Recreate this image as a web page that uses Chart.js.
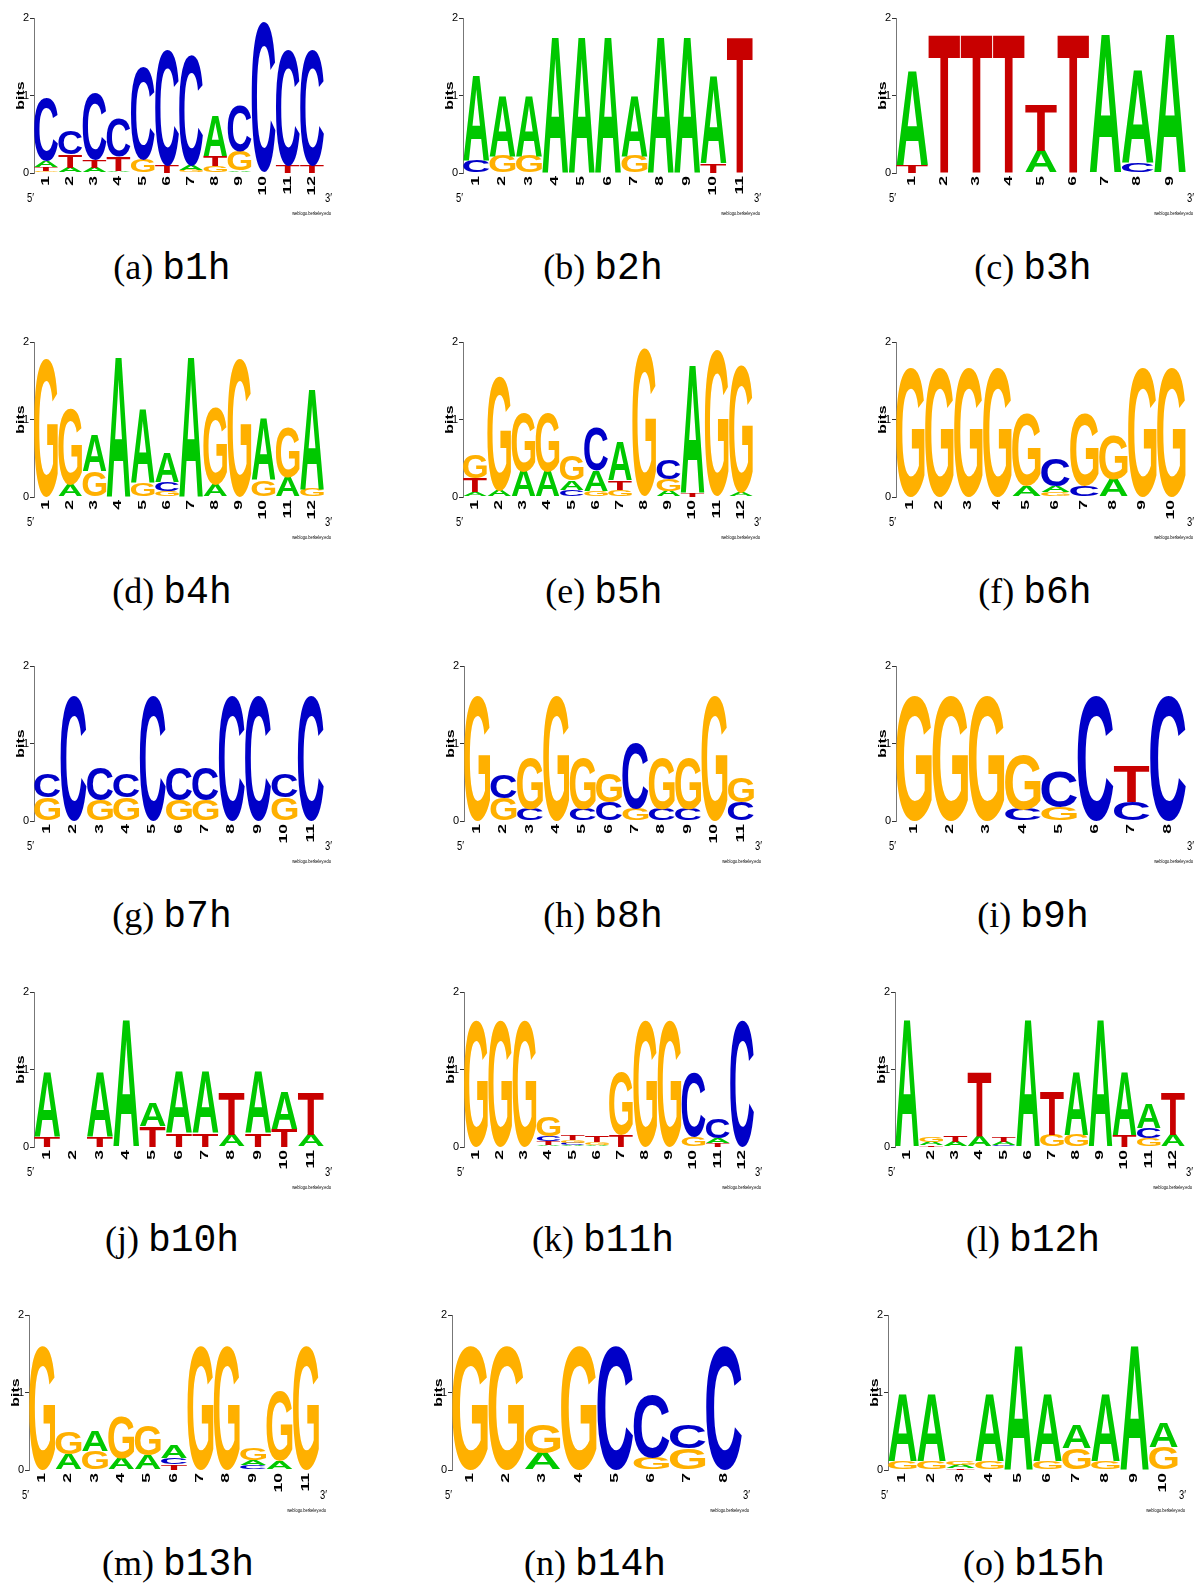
<!DOCTYPE html>
<html><head><meta charset="utf-8">
<script src="https://cdn.jsdelivr.net/npm/chart.js@4.4.1/dist/chart.umd.min.js"></script>
<style>
html,body{margin:0;padding:0;background:#fff;}
body{width:1200px;height:1595px;position:relative;overflow:hidden;}
.panel{position:absolute;}
.cap{position:absolute;width:360px;text-align:center;font-size:36px;line-height:36px;white-space:nowrap;color:#000;}
.cap .l{font-family:"Liberation Serif","DejaVu Serif",serif;}
.cap .n{font-family:"Liberation Mono","DejaVu Sans Mono",monospace;font-size:38px;}
</style></head><body>
<script>
// ---------------- DATA (bits per letter, per position) ----------------
const b1h_A = [0.08, 0.06, 0.06, 0.03, 0, 0, 0.06, 0.52, 0.03, 0, 0, 0];
const b1h_C = [0.82, 0.30, 0.86, 0.50, 1.20, 1.49, 1.42, 0, 0.60, 1.94, 1.49, 1.49];
const b1h_G = [0.03, 0.01, 0.01, 0, 0.17, 0, 0.03, 0.09, 0.25, 0, 0, 0];
const b1h_T = [0.05, 0.17, 0.10, 0.18, 0, 0.10, 0.01, 0.13, 0, 0, 0.10, 0.10];

const b2h_A = [1.10, 0.78, 0.78, 1.75, 1.75, 1.75, 0.78, 1.75, 1.75, 1.13, 0];
const b2h_C = [0.15, 0, 0, 0, 0, 0, 0, 0, 0, 0, 0];
const b2h_G = [0, 0.22, 0.22, 0, 0, 0, 0.22, 0, 0, 0, 0];
const b2h_T = [0, 0, 0, 0, 0, 0, 0, 0, 0, 0.12, 1.75];

const b3h_A = [1.21, 0, 0, 0, 0.28, 0, 1.79, 1.20, 1.79];
const b3h_C = [0, 0, 0, 0, 0, 0, 0, 0.12, 0];
const b3h_G = [0, 0, 0, 0, 0, 0, 0, 0, 0];
const b3h_T = [0.10, 1.79, 1.79, 1.79, 0.60, 1.79, 0, 0, 0];

const b4h_A = [0, 0.16, 0.47, 1.80, 0.95, 0.38, 1.80, 0.16, 0, 0.79, 0.25, 1.29];
const b4h_C = [0, 0, 0, 0, 0, 0.11, 0, 0, 0, 0, 0, 0];
const b4h_G = [1.80, 0.98, 0.33, 0, 0.18, 0.08, 0, 1.00, 1.80, 0.21, 0.64, 0.10];
const b4h_T = [0, 0, 0, 0, 0, 0, 0, 0, 0, 0, 0, 0];

const b5h_A = [0.06, 0.08, 0.33, 0.33, 0.12, 0.26, 0.50, 0, 0.08, 1.65, 0, 0.05];
const b5h_C = [0, 0, 0, 0, 0.09, 0.56, 0, 0, 0.26, 0, 0, 0];
const b5h_G = [0.31, 1.47, 0.77, 0.77, 0.32, 0.08, 0.09, 1.91, 0.15, 0, 1.90, 1.65];
const b5h_T = [0.18, 0, 0, 0, 0, 0, 0.12, 0, 0, 0.05, 0, 0];

const b6h_A = [0, 0, 0, 0, 0.14, 0.08, 0, 0.23, 0, 0];
const b6h_C = [0, 0, 0, 0, 0, 0.36, 0.14, 0, 0, 0];
const b6h_G = [1.68, 1.68, 1.68, 1.68, 0.94, 0.06, 0.93, 0.58, 1.68, 1.68];
const b6h_T = [0, 0, 0, 0, 0, 0, 0, 0, 0, 0];

const b7h_A = [0, 0, 0, 0, 0, 0, 0, 0, 0, 0, 0];
const b7h_C = [0.31, 1.63, 0.43, 0.31, 1.63, 0.43, 0.43, 1.63, 1.63, 0.31, 1.63];
const b7h_G = [0.30, 0, 0.27, 0.30, 0, 0.27, 0.27, 0, 0, 0.30, 0];
const b7h_T = [0, 0, 0, 0, 0, 0, 0, 0, 0, 0, 0];

const b8h_A = [0, 0, 0, 0, 0, 0, 0, 0, 0, 0, 0];
const b8h_C = [0, 0.30, 0.15, 0, 0.15, 0.24, 0.85, 0.15, 0.15, 0, 0.24];
const b8h_G = [1.63, 0.29, 0.67, 1.63, 0.67, 0.38, 0.15, 0.67, 0.67, 1.63, 0.33];
const b8h_T = [0, 0, 0, 0, 0, 0, 0, 0, 0, 0, 0];

const b9h_A = [0, 0, 0, 0, 0, 0, 0, 0];
const b9h_C = [0, 0, 0, 0.15, 0.45, 1.63, 0.25, 1.63];
const b9h_G = [1.63, 1.63, 1.63, 0.72, 0.18, 0, 0, 0];
const b9h_T = [0, 0, 0, 0, 0, 0, 0.46, 0];

const b10h_A = [0.83, 0, 0.83, 1.64, 0.29, 0.80, 0.80, 0.16, 0.80, 0.48, 0.16];
const b10h_C = [0, 0, 0, 0, 0, 0, 0, 0, 0, 0, 0];
const b10h_G = [0, 0, 0, 0, 0, 0, 0, 0, 0, 0, 0];
const b10h_T = [0.14, 0, 0.14, 0, 0.27, 0.17, 0.17, 0.55, 0.17, 0.23, 0.55];

const b11h_A = [0, 0, 0, 0.03, 0.02, 0.02, 0, 0, 0, 0, 0.06, 0];
const b11h_C = [0, 0, 0, 0.06, 0.03, 0, 0, 0, 0, 0.84, 0.26, 1.64];
const b11h_G = [1.64, 1.64, 1.64, 0.26, 0.04, 0.04, 0.82, 1.64, 1.64, 0.13, 0, 0];
const b11h_T = [0, 0, 0, 0.05, 0.06, 0.09, 0.15, 0, 0, 0, 0.05, 0];

const b12h_A = [1.64, 0.04, 0.07, 0.13, 0.04, 1.64, 0, 0.82, 1.64, 0.82, 0.32, 0.16];
const b12h_C = [0, 0, 0, 0, 0.02, 0, 0, 0, 0, 0, 0.13, 0];
const b12h_G = [0, 0.06, 0, 0, 0, 0, 0.15, 0.15, 0, 0, 0.11, 0];
const b12h_T = [0, 0.02, 0.08, 0.83, 0.07, 0, 0.56, 0, 0, 0.15, 0, 0.55];

const b13h_A = [0, 0.20, 0.26, 0.15, 0.19, 0.17, 0, 0, 0.07, 0.11, 0];
const b13h_C = [0, 0, 0, 0, 0, 0.08, 0, 0, 0.06, 0, 0];
const b13h_G = [1.61, 0.28, 0.24, 0.54, 0.39, 0, 1.61, 1.61, 0.16, 0.90, 1.61];
const b13h_T = [0, 0, 0, 0, 0, 0.07, 0, 0, 0, 0, 0];

const b14h_A = [0, 0, 0.22, 0, 0, 0, 0, 0];
const b14h_C = [0, 0, 0, 0, 1.61, 0.82, 0.30, 1.61];
const b14h_G = [1.61, 1.61, 0.37, 1.61, 0, 0.15, 0.28, 0];
const b14h_T = [0, 0, 0, 0, 0, 0, 0, 0];

const b15h_A = [0.86, 0.86, 0.04, 0.86, 1.61, 0.86, 0.30, 0.86, 1.61, 0.31];
const b15h_C = [0, 0, 0, 0, 0, 0, 0, 0, 0, 0];
const b15h_G = [0.11, 0.11, 0.05, 0.11, 0, 0.11, 0.28, 0.11, 0, 0.29];
const b15h_T = [0, 0, 0.02, 0, 0, 0, 0, 0, 0, 0];

const yTicks = [0, 1, 2];
const subLetters = ['a','b','c','d','e','f','g','h','i','j','k','l','m','n','o'];
const logoNames = ['b1h','b2h','b3h','b4h','b5h','b6h','b7h','b8h','b9h','b10h','b11h','b12h','b13h','b14h','b15h'];

// ---------------- LAYOUT ----------------
const ROW_Y2 = [18, 342, 666, 992, 1315];           // pixel of the "2 bits" tick
const COL_AXIS = [[34,463,896],[34,463,896],[34,464,896],[34,464,895],[29,452,888]];
const CAP_X = [[172,603,1033],[172,604,1035],[172,603,1033],[172,603,1033],[178,595,1034]];
const CAP_BASE = [279, 603, 927, 1251, 1575];

const COLORS = {A:'#00c800', C:'#0000c8', G:'#ffb000', T:'#c80000'};
const GLYPH_FONT = 'bold 200px "Liberation Sans", Arial, Helvetica, sans-serif';
const glyphCache = {};
function glyphMetrics(ctx, ch){
  if (glyphCache[ch]) return glyphCache[ch];
  ctx.save();
  ctx.font = GLYPH_FONT; ctx.textAlign = 'left'; ctx.textBaseline = 'alphabetic';
  const m = ctx.measureText(ch);
  ctx.restore();
  return glyphCache[ch] = {l:m.actualBoundingBoxLeft, r:m.actualBoundingBoxRight, a:m.actualBoundingBoxAscent, d:m.actualBoundingBoxDescent};
}
function drawGlyph(ctx, ch, x0, y0, w, h){
  const g = glyphMetrics(ctx, ch);
  ctx.save();
  ctx.font = GLYPH_FONT; ctx.textAlign = 'left'; ctx.textBaseline = 'alphabetic';
  ctx.fillStyle = COLORS[ch];
  ctx.translate(x0, y0);
  ctx.scale(w/(g.l+g.r), h/(g.a+g.d));
  ctx.fillText(ch, g.l, g.a);
  ctx.restore();
}

const logoPlugin = {
  id: 'logo',
  afterDatasetsDraw(chart){
    const ctx = chart.ctx;
    chart.data.datasets.forEach((ds, di) => {
      const meta = chart.getDatasetMeta(di);
      meta.data.forEach((bar, i) => {
        const ch = ds.letters[i];
        if (!ch) return;
        const p = bar.getProps(['x','y','base','width'], true);
        const top = Math.min(p.y, p.base), bot = Math.max(p.y, p.base);
        const h = bot - top;
        if (h < 0.6) return;
        drawGlyph(ctx, ch, p.x - p.width/2, top, p.width, h);
      });
    });
  },
  afterDraw(chart){
    const ctx = chart.ctx, a = chart.chartArea, xs = chart.scales.x;
    ctx.save();
    ctx.fillStyle = '#000';
    // position numbers (rotated, stretched)
    chart.data.labels.forEach((lab, i) => {
      const x = xs.getPixelForValue(i);
      ctx.save();
      ctx.translate(x, a.bottom + 3);
      ctx.rotate(-Math.PI/2);
      ctx.scale(1.75, 1);
      ctx.font = 'bold 10px "Liberation Sans", Arial, sans-serif';
      ctx.textAlign = 'right'; ctx.textBaseline = 'middle';
      ctx.fillText(lab, 0, 0);
      ctx.restore();
    });
    // "bits"
    ctx.save();
    ctx.translate(a.left - 13, (a.top + a.bottom)/2);
    ctx.rotate(-Math.PI/2);
    ctx.scale(1.6, 1);
    ctx.font = 'bold 10px "Liberation Sans", Arial, sans-serif';
    ctx.textAlign = 'center'; ctx.textBaseline = 'middle';
    ctx.fillText('bits', 0, 0);
    ctx.restore();
    // 5' and 3'
    ctx.font = '13px "Liberation Sans", Arial, sans-serif';
    ctx.textBaseline = 'alphabetic';
    ctx.save(); ctx.translate(a.left, a.bottom + 29); ctx.scale(0.72, 1);
    ctx.textAlign = 'right'; ctx.fillText("5\u2032", 0, 0); ctx.restore();
    ctx.save(); ctx.translate(a.right + 1, a.bottom + 29); ctx.scale(0.72, 1);
    ctx.textAlign = 'left'; ctx.fillText("3\u2032", 0, 0); ctx.restore();
    // credit
    ctx.save(); ctx.translate(a.right + 7, a.bottom + 42); ctx.scale(0.67, 1);
    ctx.font = '6px "Liberation Sans", Arial, sans-serif';
    ctx.textAlign = 'right'; ctx.fillText('weblogo.berkeley.edu', 0, 0); ctx.restore();
    ctx.restore();
  }
};

function buildDatasets(A, C, G, T){
  const n = A.length;
  const stacks = [];
  for (let i = 0; i < n; i++){
    const s = [{l:'A',v:A[i]},{l:'C',v:C[i]},{l:'G',v:G[i]},{l:'T',v:T[i]}]
      .filter(o => o.v > 0).sort((p, q) => p.v - q.v);
    stacks.push(s);
  }
  const ds = [];
  for (let k = 0; k < 4; k++){
    ds.push({
      data: stacks.map(s => s[k] ? s[k].v : 0),
      letters: stacks.map(s => s[k] ? s[k].l : null),
      backgroundColor: 'rgba(0,0,0,0)', borderWidth: 0,
      barPercentage: 0.98, categoryPercentage: 1.0
    });
  }
  return ds;
}

const DATA = {
  b1h:[b1h_A,b1h_C,b1h_G,b1h_T], b2h:[b2h_A,b2h_C,b2h_G,b2h_T], b3h:[b3h_A,b3h_C,b3h_G,b3h_T],
  b4h:[b4h_A,b4h_C,b4h_G,b4h_T], b5h:[b5h_A,b5h_C,b5h_G,b5h_T], b6h:[b6h_A,b6h_C,b6h_G,b6h_T],
  b7h:[b7h_A,b7h_C,b7h_G,b7h_T], b8h:[b8h_A,b8h_C,b8h_G,b8h_T], b9h:[b9h_A,b9h_C,b9h_G,b9h_T],
  b10h:[b10h_A,b10h_C,b10h_G,b10h_T], b11h:[b11h_A,b11h_C,b11h_G,b11h_T], b12h:[b12h_A,b12h_C,b12h_G,b12h_T],
  b13h:[b13h_A,b13h_C,b13h_G,b13h_T], b14h:[b14h_A,b14h_C,b14h_G,b14h_T], b15h:[b15h_A,b15h_C,b15h_G,b15h_T]
};

const CW = 345, CH = 215;
logoNames.forEach((name, idx) => {
  const r = Math.floor(idx/3), c = idx % 3;
  const ax = COL_AXIS[r][c], y2 = ROW_Y2[r];
  const div = document.createElement('div');
  div.className = 'panel';
  div.style.left = (ax - 40) + 'px';
  div.style.top = (y2 - 10) + 'px';
  const cv = document.createElement('canvas');
  cv.width = CW; cv.height = CH;
  cv.style.width = CW + 'px'; cv.style.height = CH + 'px';
  div.appendChild(cv);
  document.body.appendChild(div);

  const [A, C, G, T] = DATA[name];
  const labels = A.map((_, i) => String(i + 1));
  new Chart(cv.getContext('2d'), {
    type: 'bar',
    data: { labels, datasets: buildDatasets(A, C, G, T) },
    options: {
      responsive: false, animation: false, devicePixelRatio: 1,
      layout: { padding: { top: 10, right: 15, bottom: 0, left: 0 } },
      plugins: { legend: {display:false}, tooltip: {enabled:false}, title:{display:false} },
      scales: {
        x: {
          stacked: true, offset: true,
          grid: { display: false, drawTicks: false },
          border: { display: false },
          ticks: { display: false },
          afterFit: s => { s.height = 50; }
        },
        y: {
          stacked: true, min: 0, max: 2,
          afterBuildTicks: s => { s.ticks = yTicks.map(v => ({value: v})); },
          ticks: { color: '#000', padding: 1, font: { family: '"Liberation Sans", Arial, sans-serif', size: 11 } },
          grid: { drawOnChartArea: false, drawTicks: true, tickLength: 4, color: '#333', lineWidth: 1 },
          border: { display: true, color: '#777', width: 1 },
          afterFit: s => { s.width = 40; }
        }
      }
    },
    plugins: [logoPlugin]
  });

  const cap = document.createElement('div');
  cap.className = 'cap';
  cap.style.left = (CAP_X[r][c] - 180) + 'px';
  cap.style.top = (CAP_BASE[r] - 30) + 'px';
  cap.innerHTML = '<span class="l">(' + subLetters[idx] + ')</span> <span class="n">' + name + '</span>';
  document.body.appendChild(cap);
});
</script>
</body></html>
